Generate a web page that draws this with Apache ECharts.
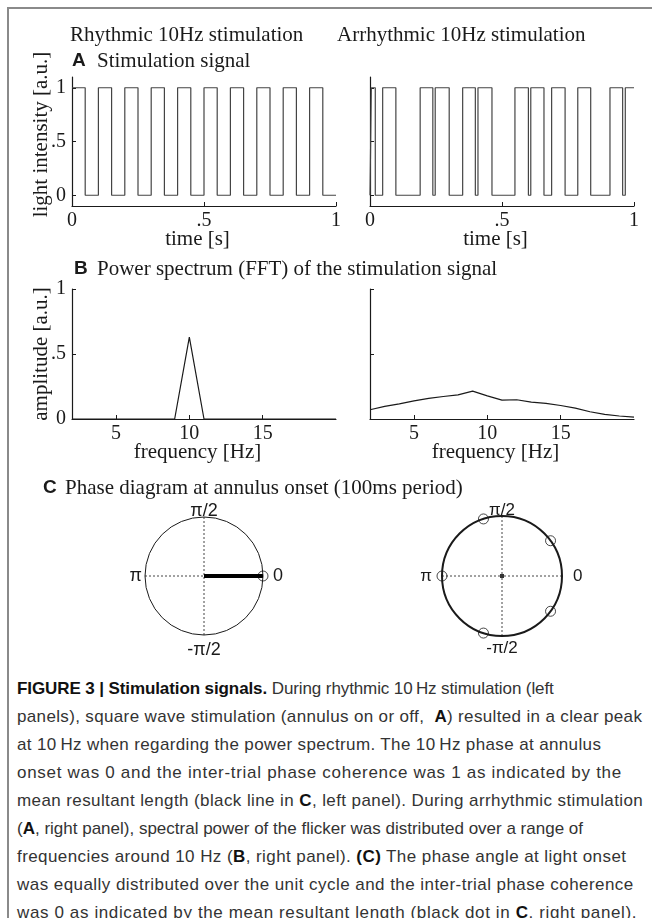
<!DOCTYPE html>
<html lang="en">
<head>
<meta charset="UTF-8">
<title>Stimulation signals</title>
<script src="https://cdn.jsdelivr.net/npm/echarts@6.0.0/dist/echarts.min.js"></script>
<style>
  html, body { margin: 0; padding: 0; background: #fff; }
  body { width: 652px; height: 918px; position: relative; overflow: hidden; }
  .frame {
    position: absolute; left: 7px; top: 7px; right: -10px; bottom: -10px;
    border-left: 2px solid #8a8a8a; border-top: 2px solid #8a8a8a;
  }
  #chart { position: absolute; left: 0; top: 0; width: 652px; height: 668px; }
  .caption {
    position: absolute; left: 17px; top: 675px;
    font-family: "Liberation Sans", Arial, sans-serif;
    font-size: 17px; line-height: 28px; color: #333;
    white-space: nowrap;
  }
  .caption b { color: #111; }
</style>
</head>
<body>
<div class="frame"></div>
<div id="chart"></div>
<div class="caption">
  <div style="letter-spacing:-0.1px"><b>FIGURE 3 | Stimulation signals.</b> During rhythmic 10&thinsp;Hz stimulation (left</div>
  <div style="letter-spacing:0.35px">panels), square wave stimulation (annulus on or off,&nbsp; <b>A</b>) resulted in a clear peak</div>
  <div style="letter-spacing:0.37px">at 10&thinsp;Hz when regarding the power spectrum. The 10&thinsp;Hz phase at annulus</div>
  <div style="letter-spacing:0.7px">onset was 0 and the inter-trial phase coherence was 1 as indicated by the</div>
  <div style="letter-spacing:0.4px">mean resultant length (black line in <b>C</b>, left panel). During arrhythmic stimulation</div>
  <div style="letter-spacing:0px">(<b>A</b>, right panel), spectral power of the flicker was distributed over a range of</div>
  <div style="letter-spacing:0.42px">frequencies around 10 Hz (<b>B</b>, right panel). <b>(C)</b> The phase angle at light onset</div>
  <div style="letter-spacing:0.45px">was equally distributed over the unit cycle and the inter-trial phase coherence</div>
  <div style="letter-spacing:0.62px">was 0 as indicated by the mean resultant length (black dot in <b>C</b>, right panel).</div>
</div>

<script>
  // A: stimulation signal, level holds from each time until the next one
  const rhythmicTimes = [0, 0.05, 0.1, 0.15, 0.2, 0.25, 0.3, 0.35, 0.4, 0.45, 0.5,
    0.55, 0.6, 0.65, 0.7, 0.75, 0.8, 0.85, 0.9, 0.95, 1.0];
  const rhythmicLevels = [1, 0, 1, 0, 1, 0, 1, 0, 1, 0, 1, 0, 1, 0, 1, 0, 1, 0, 1, 0, 0];
  const arrhythmicTimes = [0, 0.005, 0.02, 0.048, 0.098, 0.19, 0.238, 0.247, 0.30, 0.351,
    0.399, 0.409, 0.462, 0.549, 0.60, 0.609, 0.659, 0.688, 0.739, 0.787, 0.836, 0.909,
    0.957, 0.967, 1.0];
  const arrhythmicLevels = [0, 1, 0, 1, 0, 1, 0, 1, 0, 1, 0, 1, 0, 1, 0, 1, 0, 1, 0, 1, 0,
    1, 0, 1, 1];

  // B: power spectrum (Hz / a.u.)
  const freqs = [2, 3, 4, 5, 6, 7, 8, 9, 10, 11, 12, 13, 14, 15, 16, 17, 18, 19, 20];
  const rhythmicAmp = [0, 0, 0, 0, 0, 0, 0, 0, 0.63, 0, 0, 0, 0, 0, 0, 0, 0, 0, 0];
  const arrhythmicAmp = [0.071, 0.097, 0.117, 0.14, 0.158, 0.173, 0.186, 0.214, 0.178,
    0.145, 0.148, 0.13, 0.12, 0.104, 0.084, 0.056, 0.035, 0.023, 0.015];

  // C: phase at annulus onset (deg) and mean resultant [length, angle]
  const rhythmicPhases = [0];
  const arrhythmicPhases = [36, 108, 180, 252, 324];
  const rhythmicResultant = [1, 0];
  const arrhythmicResultant = [0, 0];

  // tick labels
  const timeTicks = [0, 0.5, 1];
  const levelTicks = [0, 0.5, 1];
  const freqTicks = [5, 10, 15];
  const ampTicks = [0, 0.5, 1];
  const phaseNames = { 0: '0', 90: 'π/2', 180: 'π', 270: '-π/2' };

  const serif = "'Liberation Serif', 'Times New Roman', serif";
  const sans = "'Liberation Sans', Arial, sans-serif";
  const ink = '#1a1a1a';

  const frac = v => String(v).replace(/^0\./, '.');
  const zip = (xs, ys) => xs.map((x, i) => [x, ys[i]]);

  function xAxis(grid, min, max, ticks, name) {
    return {
      type: 'value', gridIndex: grid, min: min, max: max,
      axisLine: { onZero: false, lineStyle: { color: ink, width: 1.2 } },
      axisTick: { inside: true, length: 4, customValues: ticks, lineStyle: { color: ink } },
      axisLabel: { customValues: ticks, formatter: frac, fontFamily: serif, fontSize: 20, color: ink, margin: 5 },
      splitLine: { show: false },
      name: name, nameLocation: 'middle', nameGap: 23, nameMoveOverlap: false,
      nameTextStyle: { fontFamily: serif, fontSize: 21, color: ink, padding: [0, 13, 0, 0] }
    };
  }

  function yAxis(grid, min, max, ticks, name, pad) {
    return {
      type: 'value', gridIndex: grid, min: min, max: max,
      axisLine: { onZero: false, lineStyle: { color: ink, width: 1.2 } },
      axisTick: { inside: true, length: 4, customValues: ticks, lineStyle: { color: ink } },
      axisLabel: { show: !!name, customValues: ticks, formatter: frac, fontFamily: serif, fontSize: 20, color: ink, margin: 6 },
      splitLine: { show: false },
      name: name || '', nameLocation: 'middle', nameGap: 20, nameMoveOverlap: false,
      nameTextStyle: { fontFamily: serif, fontSize: 21, color: ink, padding: pad || 0 }
    };
  }

  // per-label nudges of the phase labels [top, right, bottom, left]
  function phaseRich(size, pads) {
    const rich = {};
    Object.keys(phaseNames).forEach(k => {
      rich['p' + k] = { fontFamily: sans, fontSize: size, color: ink, padding: pads[k] };
    });
    return rich;
  }

  function angleAxis(i, width, size, pads) {
    return {
      polarIndex: i, type: 'value', min: 0, max: 360, interval: 90,
      startAngle: 0, clockwise: false,
      axisLine: { lineStyle: { color: ink, width: width } },
      axisTick: { show: false },
      axisLabel: {
        formatter: v => phaseNames[v] ? '{p' + v + '|' + phaseNames[v] + '}' : '',
        fontFamily: sans, fontSize: size, color: ink, margin: -3,
        rich: phaseRich(size, pads)
      },
      splitLine: { show: true, lineStyle: { type: [2, 2], color: '#444', width: 1 } }
    };
  }

  function radiusAxis(i) {
    return {
      polarIndex: i, type: 'value', min: 0, max: 1,
      axisLine: { show: false }, axisTick: { show: false },
      axisLabel: { show: false }, splitLine: { show: false }
    };
  }

  function heading(x, y, text, font) {
    return { type: 'text', x: x, y: y, style: { text: text, font: font, fill: ink, verticalAlign: 'middle' } };
  }

  const chart = echarts.init(document.getElementById('chart'));

  const option = {
    animation: false,
    grid: [
      { left: 72, top: 77, width: 264, height: 129 },
      { left: 370, top: 77, width: 264, height: 129 },
      { left: 72, top: 289, width: 264, height: 130 },
      { left: 370, top: 289, width: 264, height: 130 }
    ],
    xAxis: [
      xAxis(0, 0, 1, timeTicks, 'time [s]'),
      xAxis(1, 0, 1, timeTicks, 'time [s]'),
      xAxis(2, 2, 20, freqTicks, 'frequency [Hz]'),
      xAxis(3, 2, 20, freqTicks, 'frequency [Hz]')
    ],
    yAxis: [
      yAxis(0, -0.1, 1.1, levelTicks, 'light intensity [a.u.]', [0, 0, 0, 14]),
      yAxis(1, -0.1, 1.1, levelTicks),
      yAxis(2, 0, 1, ampTicks, 'amplitude [a.u.]'),
      yAxis(3, 0, 1, ampTicks)
    ],
    polar: [
      { center: [204, 576], radius: 59 },
      { center: [502, 576], radius: 60 }
    ],
    angleAxis: [
      angleAxis(0, 1, 18, { 0: [0, 0, 0, 13], 90: 0, 180: [0, 6, 0, 0], 270: [9, 0, 0, 0] }),
      angleAxis(1, 2, 17, { 0: [0, 0, 0, 14], 90: 0, 180: [0, 13, 0, 0], 270: [7, 0, 0, 0] })
    ],
    radiusAxis: [radiusAxis(0), radiusAxis(1)],
    graphic: [
      heading(70, 35, 'Rhythmic 10Hz stimulation', '21px ' + serif),
      heading(337, 35, 'Arrhythmic 10Hz stimulation', '21px ' + serif),
      heading(72, 61, 'A', 'bold 19px ' + sans),
      heading(97, 61, 'Stimulation signal', '21px ' + serif),
      heading(74, 269, 'B', 'bold 19px ' + sans),
      heading(97, 269, 'Power spectrum (FFT) of the stimulation signal', '21px ' + serif),
      heading(43, 488, 'C', 'bold 19px ' + sans),
      heading(65, 488, 'Phase diagram at annulus onset (100ms period)', '21px ' + serif)
    ],
    series: [
      {
        type: 'line', xAxisIndex: 0, yAxisIndex: 0, step: 'end', showSymbol: false,
        data: zip(rhythmicTimes, rhythmicLevels), lineStyle: { color: '#444', width: 1.2 }
      },
      {
        type: 'line', xAxisIndex: 1, yAxisIndex: 1, step: 'end', showSymbol: false,
        data: zip(arrhythmicTimes, arrhythmicLevels), lineStyle: { color: '#444', width: 1.2 }
      },
      {
        type: 'line', xAxisIndex: 2, yAxisIndex: 2, showSymbol: false,
        data: zip(freqs, rhythmicAmp), lineStyle: { color: ink, width: 1.2 }
      },
      {
        type: 'line', xAxisIndex: 3, yAxisIndex: 3, showSymbol: false,
        data: zip(freqs, arrhythmicAmp), lineStyle: { color: ink, width: 1.2 }
      },
      {
        type: 'line', coordinateSystem: 'polar', polarIndex: 0, showSymbol: false,
        data: [[0, rhythmicResultant[1]], rhythmicResultant], lineStyle: { color: '#000', width: 4 }
      },
      {
        type: 'scatter', coordinateSystem: 'polar', polarIndex: 0, symbol: 'circle', symbolSize: 10,
        data: rhythmicPhases.map(p => [1, p]),
        itemStyle: { color: 'rgba(0,0,0,0)', borderColor: ink, borderWidth: 1 }
      },
      {
        type: 'scatter', coordinateSystem: 'polar', polarIndex: 1, symbol: 'circle', symbolSize: 10,
        data: arrhythmicPhases.map(p => [1, p]),
        itemStyle: { color: 'rgba(0,0,0,0)', borderColor: ink, borderWidth: 1 }
      },
      {
        type: 'scatter', coordinateSystem: 'polar', polarIndex: 1, symbol: 'rect', symbolSize: 4,
        data: [arrhythmicResultant], itemStyle: { color: '#000' }
      }
    ]
  };

  chart.setOption(option);
</script>
</body>
</html>
